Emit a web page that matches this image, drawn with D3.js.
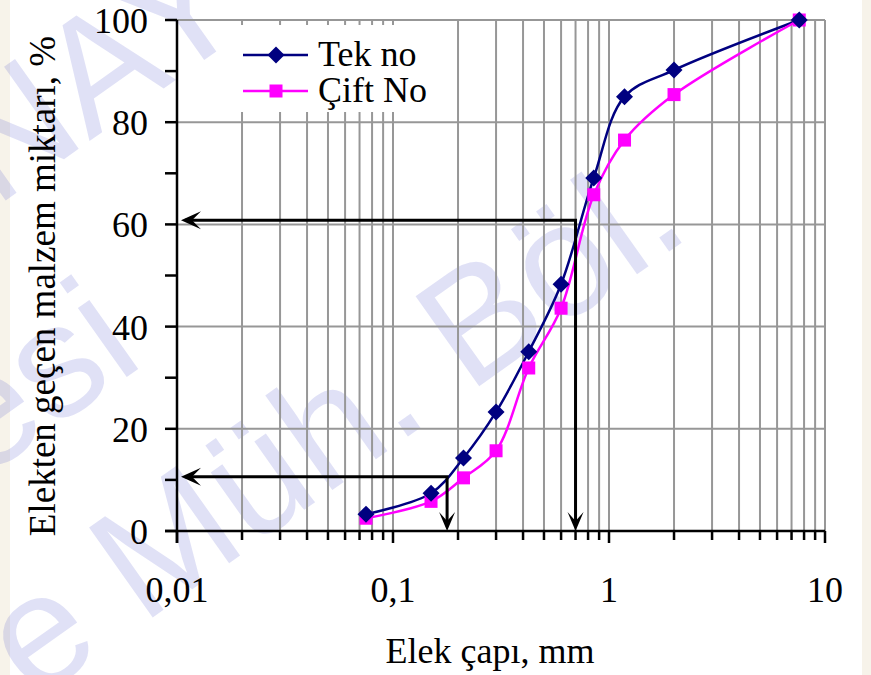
<!DOCTYPE html>
<html><head><meta charset="utf-8">
<script src="https://cdn.jsdelivr.net/npm/d3@7"></script>
<style>html,body{margin:0;padding:0;background:#fff;} svg{display:block;}</style>
</head><body>
<svg id="chart" width="871" height="675"></svg>
<script>
// ---- data ----
const sieveSizes = [0.075, 0.15, 0.212, 0.3, 0.425, 0.6, 0.85, 1.18, 2, 7.6];
const tekNo  = [3.3, 7.4, 14.3, 23.3, 35.1, 48.3, 69.1, 85.0, 90.2, 100];
const ciftNo = [2.5, 5.8, 10.4, 15.7, 31.9, 43.6, 65.8, 76.5, 85.4, 100];
const seriesNames = ["Tek no", "Çift No"];
const xTickValues = [0.01, 0.1, 1, 10];
const xTickLabels = ["0,01", "0,1", "1", "10"];
const yTickValues = [0, 20, 40, 60, 80, 100];
const yTickLabels = ["0", "20", "40", "60", "80", "100"];
const guideD60 = [0.70, 60.8];   // [mm, %]
const guideD10 = [0.178, 10.6];  // [mm, %]
const xTitle = "Elek çapı, mm";
const yTitle = "Elekten geçen malzem miktarı, %";
const watermark = [
  {text: "NAY", x: -5, y: 208},
  {text: "esi", x: -20, y: 481},
  {text: "e Müh. Böl.", x: 33, y: 702}
];

// ---- setup ----
const W = 871, H = 675;
const svg = d3.select("#chart");
const serif = "'Liberation Serif','Times New Roman',serif";

svg.append("rect").attr("width", W).attr("height", H).attr("fill", "#fff");
svg.append("rect").attr("x", 0).attr("y", 0).attr("width", 10).attr("height", H).attr("fill", "#f7f3ea");
svg.append("rect").attr("x", 862).attr("y", 0).attr("width", 9).attr("height", H).attr("fill", "#f7f3ea");

// watermark (beneath chart)
const wm = svg.append("g");
watermark.forEach(d => {
  wm.append("text").attr("transform", `translate(${d.x},${d.y}) rotate(-35.3)`)
    .attr("font-family", "'Liberation Sans',Arial,sans-serif").attr("font-size", 160)
    .attr("fill", "#3c46c8").attr("fill-opacity", 0.16).text(d.text);
});

const x = d3.scaleLog().domain([0.01, 10]).range([177, 825]);
const y = d3.scaleLinear().domain([0, 100]).range([531, 20]);

// minor/major tick values on x
const xAll = [];
[0.01, 0.1, 1].forEach(dec => { for (let k = 1; k <= 9; k++) xAll.push(+(dec * k).toPrecision(3)); });
xAll.push(10);

const grid = svg.append("g").attr("stroke", "#979797").attr("stroke-width", 2);
xAll.filter(v => v > 0.01).forEach(v => {
  grid.append("line").attr("x1", x(v)).attr("x2", x(v)).attr("y1", y(100)).attr("y2", y(0));
});
d3.range(20, 101, 20).forEach(v => {
  grid.append("line").attr("x1", x(0.01)).attr("x2", x(10)).attr("y1", y(v)).attr("y2", y(v));
});

// legend background box (hides grid)
svg.append("rect").attr("x", 238).attr("y", 25).attr("width", 200).attr("height", 87).attr("fill", "#fff");

// axes
const axes = svg.append("g").attr("stroke", "#000").attr("stroke-width", 2.5);
axes.append("line").attr("x1", x(0.01)).attr("x2", x(0.01)).attr("y1", y(100)).attr("y2", y(0) + 12);
axes.append("line").attr("x1", x(0.01) - 12).attr("x2", x(10)).attr("y1", y(0)).attr("y2", y(0));
d3.range(0, 101, 10).forEach(v => {
  axes.append("line").attr("x1", x(0.01) - 12).attr("x2", x(0.01)).attr("y1", y(v)).attr("y2", y(v));
});
xAll.forEach(v => {
  const major = xTickValues.includes(v);
  axes.append("line").attr("x1", x(v)).attr("x2", x(v)).attr("y1", y(0)).attr("y2", y(0) + (major ? 12 : 9));
});

// tick labels
xTickValues.forEach((v, i) => {
  svg.append("text").attr("x", x(v)).attr("y", 602).attr("text-anchor", "middle")
    .attr("font-family", serif).attr("font-size", 36).text(xTickLabels[i]);
});
yTickValues.forEach((v, i) => {
  svg.append("text").attr("x", 148).attr("y", y(v) + 13).attr("text-anchor", "end")
    .attr("font-family", serif).attr("font-size", 36).text(yTickLabels[i]);
});

// titles
svg.append("text").attr("x", 490).attr("y", 663).attr("text-anchor", "middle")
  .attr("font-family", serif).attr("font-size", 36).text(xTitle);
svg.append("text").attr("transform", "translate(55,286) rotate(-90)").attr("text-anchor", "middle")
  .attr("font-family", serif).attr("font-size", 37).text(yTitle);

// series
const line = d3.line().x(d => x(d[0])).y(d => y(d[1])).curve(d3.curveCatmullRom.alpha(0.5));
const series = [
  {name: seriesNames[0], values: tekNo, color: "#000080", shape: "diamond"},
  {name: seriesNames[1], values: ciftNo, color: "#ff00ff", shape: "square"}
];
function marker(g, cx, cy, s) {
  if (s.shape === "diamond") {
    g.append("path").attr("d", `M${cx},${cy - 8.5}L${cx + 8.5},${cy}L${cx},${cy + 8.5}L${cx - 8.5},${cy}Z`).attr("fill", s.color);
  } else {
    g.append("rect").attr("x", cx - 6.5).attr("y", cy - 6.5).attr("width", 13).attr("height", 13).attr("fill", s.color);
  }
}
series.forEach(s => {
  const pts = sieveSizes.map((v, i) => [v, s.values[i]]);
  svg.append("path").attr("d", line(pts)).attr("fill", "none").attr("stroke", s.color).attr("stroke-width", 2.5);
});
series.slice().reverse().forEach(s => {
  const g = svg.append("g");
  sieveSizes.forEach((v, i) => marker(g, x(v), y(s.values[i]), s));
});

// guide arrows
function arrowHead(g, tx, ty, dir) {
  const p = dir === "left"
    ? `M${tx},${ty}L${tx + 20},${ty - 9}L${tx + 11},${ty}L${tx + 20},${ty + 9}Z`
    : `M${tx},${ty}L${tx - 8},${ty - 19}L${tx},${ty - 10}L${tx + 8},${ty - 19}Z`;
  g.append("path").attr("d", p).attr("fill", "#000");
}
[guideD60, guideD10].forEach(gd => {
  const g = svg.append("g");
  const cx = x(gd[0]), cy = y(gd[1]);
  g.append("path").attr("d", `M${x(0.01) + 8},${cy}L${cx},${cy}L${cx},${y(0) - 6}`)
    .attr("fill", "none").attr("stroke", "#000").attr("stroke-width", 3);
  arrowHead(g, x(0.01) + 4, cy, "left");
  arrowHead(g, cx, y(0), "down");
});

// legend
series.forEach((s, i) => {
  const ly = 55 + i * 36;
  svg.append("line").attr("x1", 243).attr("x2", 308).attr("y1", ly).attr("y2", ly)
    .attr("stroke", s.color).attr("stroke-width", 2.5);
  marker(svg, 276, ly, s);
  svg.append("text").attr("x", 318).attr("y", ly + 11).attr("font-family", serif)
    .attr("font-size", 36).text(s.name);
});
</script>
</body></html>
